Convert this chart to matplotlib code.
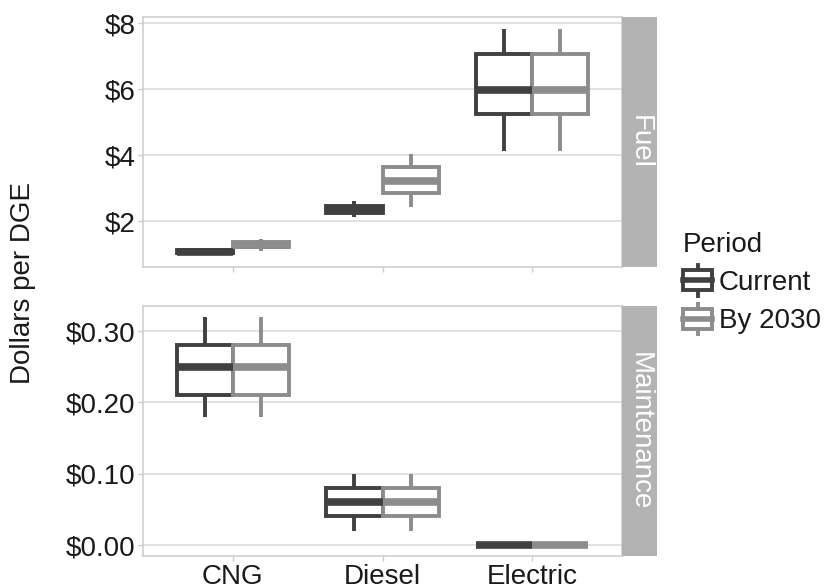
import matplotlib
matplotlib.use("Agg")
import matplotlib.pyplot as plt
from matplotlib.patches import Rectangle, Patch
from matplotlib.lines import Line2D
from matplotlib.legend_handler import HandlerBase

plt.rcParams['font.family'] = ['Liberation Sans', 'DejaVu Sans']

categories = ['CNG', 'Diesel', 'Electric']
periods = ['Current', 'By 2030']
colors = ['#404040', '#8c8c8c']

# five-number summaries: (low whisker, q1, median, q3, high whisker)
fuel_current = [(1.01, 1.03, 1.07, 1.11, 1.13),
                (2.12, 2.24, 2.36, 2.47, 2.60),
                (4.11, 5.24, 5.98, 7.07, 7.82)]
fuel_2030 = [(1.10, 1.20, 1.28, 1.36, 1.46),
             (2.42, 2.84, 3.22, 3.64, 4.04),
             (4.11, 5.24, 5.98, 7.07, 7.82)]
maint_current = [(0.18, 0.21, 0.25, 0.28, 0.32),
                 (0.02, 0.04, 0.06, 0.08, 0.10),
                 (0.0, 0.0, 0.0, 0.0, 0.0)]
maint_2030 = [(0.18, 0.21, 0.25, 0.28, 0.32),
              (0.02, 0.04, 0.06, 0.08, 0.10),
              (0.0, 0.0, 0.0, 0.0, 0.0)]

fuel_ticks = [2, 4, 6, 8]
fuel_labels = ['$2', '$4', '$6', '$8']
maint_ticks = [0.0, 0.1, 0.2, 0.3]
maint_labels = ['$0.00', '$0.10', '$0.20', '$0.30']

W, H = 830, 587
fig = plt.figure(figsize=(W / 100, H / 100), dpi=100)

left, right = 143, 622
panels = [(17.3, 267.3), (305.7, 556)]
strip_w = 35


def px_axes(x0, x1, y0, y1):
    return fig.add_axes([x0 / W, 1 - y1 / H, (x1 - x0) / W, (y1 - y0) / H])


def draw_panel(ax, series, ylim, ticks, labels, strip_text, y0, y1, show_x):
    width = 0.375
    offsets = [-width / 2, width / 2]
    for data, col, off in zip(series, colors, offsets):
        stats = []
        for lo, q1, med, q3, hi in data:
            stats.append(dict(whislo=lo, q1=q1, med=med, q3=q3, whishi=hi, fliers=[]))
        pos = [i + 1 + off for i in range(len(categories))]
        ax.bxp(stats, positions=pos, widths=width, showcaps=False, showfliers=False,
               patch_artist=True,
               boxprops=dict(facecolor='white', edgecolor=col, linewidth=2.8),
               whiskerprops=dict(color=col, linewidth=2.8, solid_capstyle='butt'),
               medianprops=dict(color=col, linewidth=5.5, solid_capstyle='butt'),
               manage_ticks=False, zorder=3)
    ax.set_xlim(0.4, 3.6)
    ax.set_ylim(*ylim)
    ax.set_yticks(ticks)
    ax.set_yticklabels(labels)
    ax.set_xticks([1, 2, 3])
    if show_x:
        ax.set_xticklabels(categories)
    else:
        ax.set_xticklabels([])
        ax.tick_params(axis='x', length=0)
    ax.grid(True, axis='y', color='#d9d9d9', linewidth=1.1)
    ax.set_axisbelow(True)
    ax.tick_params(labelsize=20, colors='#cccccc', labelcolor='#1a1a1a',
                   length=3.5, width=1, pad=2)
    for sp in ax.spines.values():
        sp.set_color('#cccccc')
        sp.set_linewidth(1.1)
    sax = px_axes(right, right + strip_w, y0, y1)
    sax.set_facecolor('#b3b3b3')
    sax.set_xticks([])
    sax.set_yticks([])
    for sp in sax.spines.values():
        sp.set_visible(False)
    sax.text(0.5, 0.5, strip_text, rotation=270, color='white', fontsize=20,
             ha='center', va='center', transform=sax.transAxes)


ax1 = px_axes(left, right, *panels[0])
draw_panel(ax1, [fuel_current, fuel_2030], (0.597, 8.18), fuel_ticks, fuel_labels,
           'Fuel', *panels[0], show_x=False)
ax2 = px_axes(left, right, *panels[1])
draw_panel(ax2, [maint_current, maint_2030], (-0.0154, 0.3355), maint_ticks, maint_labels,
           'Maintenance', *panels[1], show_x=True)

fig.text(23 / W, 1 - 283 / H, 'Dollars per DGE', rotation=90, fontsize=20,
         color='#1a1a1a', ha='center', va='center')


class HandlerBox(HandlerBase):
    def create_artists(self, legend, orig_handle, xdescent, ydescent, width, height,
                       fontsize, trans):
        col = orig_handle.get_edgecolor()
        cx = -xdescent + width / 2
        top = -ydescent + height * 1.25
        bot = -ydescent - height * 0.25
        b0 = -ydescent
        b1 = -ydescent + height
        mid = -ydescent + height * 0.5
        arts = [
            Line2D([cx, cx], [bot, top], color=col, lw=2.8),
            Rectangle((-xdescent, b0), width, b1 - b0, facecolor='white',
                      edgecolor=col, lw=2.8),
            Line2D([-xdescent, -xdescent + width], [mid, mid], color=col, lw=4),
        ]
        for a in arts:
            a.set_transform(trans)
        return arts


handles = [Patch(facecolor='white', edgecolor=c) for c in colors]
leg = fig.legend(handles, periods, title='Period', loc='center left',
                 bbox_to_anchor=(683 / W, 1 - 283 / H), frameon=False,
                 fontsize=20, title_fontsize=20, handler_map={Patch: HandlerBox()},
                 handlelength=1.05, handleheight=0.75, handletextpad=0.25,
                 labelspacing=0.45, borderpad=0, borderaxespad=0)
leg._legend_box.align = 'left'
for t in leg.get_texts():
    t.set_color('#1a1a1a')
leg.get_title().set_color('#1a1a1a')

fig.savefig('out.png', dpi=100, facecolor='white')
